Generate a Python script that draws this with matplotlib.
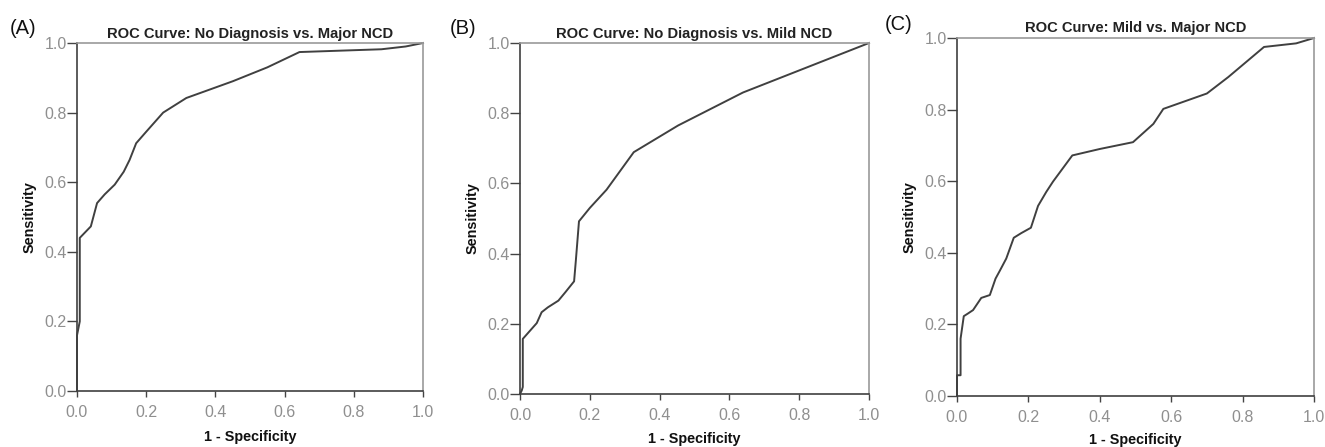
import matplotlib
matplotlib.use("Agg")
import matplotlib.pyplot as plt

plt.rcParams['font.family'] = ['Liberation Sans', 'DejaVu Sans']

# ROC curves: (1 - specificity, sensitivity)
fpr_a = [0, 0, 0.008, 0.008, 0.04, 0.058, 0.08, 0.109, 0.135, 0.152, 0.171, 0.2,
         0.249, 0.316, 0.45, 0.55, 0.643, 0.88, 0.95, 1.0]
tpr_a = [0, 0.16, 0.2, 0.44, 0.473, 0.54, 0.565, 0.593, 0.63, 0.664, 0.712, 0.745,
         0.80, 0.842, 0.89, 0.93, 0.974, 0.982, 0.99, 1.0]

fpr_b = [0, 0.005, 0.008, 0.008, 0.048, 0.062, 0.08, 0.11, 0.13, 0.155, 0.16, 0.169,
         0.2, 0.248, 0.326, 0.453, 0.639, 1.0]
tpr_b = [0, 0.01, 0.02, 0.157, 0.202, 0.233, 0.247, 0.266, 0.29, 0.321, 0.38, 0.492,
         0.53, 0.582, 0.689, 0.765, 0.859, 1.0]

fpr_c = [0, 0, 0.01, 0.01, 0.019, 0.03, 0.045, 0.068, 0.092, 0.108, 0.12, 0.138,
         0.159, 0.18, 0.207, 0.227, 0.25, 0.269, 0.323, 0.4, 0.493, 0.55, 0.578,
         0.7, 0.76, 0.86, 0.95, 1.0]
tpr_c = [0, 0.058, 0.058, 0.16, 0.223, 0.23, 0.24, 0.274, 0.282, 0.328, 0.35, 0.384,
         0.442, 0.455, 0.47, 0.531, 0.57, 0.599, 0.672, 0.69, 0.709, 0.76, 0.802,
         0.845, 0.891, 0.975, 0.985, 1.0]

titles = ['ROC Curve: No Diagnosis vs. Major NCD',
          'ROC Curve: No Diagnosis vs. Mild NCD',
          'ROC Curve: Mild vs. Major NCD']
panels = ['(A)', '(B)', '(C)']
ticks = [0.0, 0.2, 0.4, 0.6, 0.8, 1.0]

W, H = 1325, 447
fig = plt.figure(figsize=(W / 100, H / 100), dpi=100)

# axes boxes in pixels: left, right, top, bottom
boxes = [(77, 423, 43, 391), (520, 869, 43, 394), (957, 1314, 38, 396)]
panel_pos = [(10, 28), (450, 28), (885, 25)]
title_y = [34, 34, 28]
ylabel_x = [30, 473, 910]
xlabel_y = [437, 439, 440]

curves = [(fpr_a, tpr_a), (fpr_b, tpr_b), (fpr_c, tpr_c)]

for i, (x, y) in enumerate(curves):
    l, r, t, b = boxes[i]
    ax = fig.add_axes([l / W, (H - b) / H, (r - l) / W, (b - t) / H])
    ax.plot(x, y, color='#404040', lw=1.4, clip_on=False)
    ax.set_xlim(0, 1)
    ax.set_ylim(0, 1)
    ax.set_xticks(ticks)
    ax.set_yticks(ticks)
    ax.set_xticklabels([f'{v:.1f}' for v in ticks])
    ax.set_yticklabels([f'{v:.1f}' for v in ticks])
    ax.tick_params(axis='y', direction='out', length=7, width=1, color='#444444',
                   labelcolor='#8f8f8f', labelsize=11.5, pad=0.5)
    ax.tick_params(axis='x', direction='out', length=4, width=1, color='#444444',
                   labelcolor='#8f8f8f', labelsize=11.5, pad=6)
    for s in ['left', 'bottom']:
        ax.spines[s].set_color('#404040')
        ax.spines[s].set_linewidth(1.2)
    for s in ['top', 'right']:
        ax.spines[s].set_color('#9a9a9a')
        ax.spines[s].set_linewidth(1.2)

    cx = (l + r) / 2 / W
    fig.text(cx, 1 - title_y[i] / H, titles[i], ha='center', va='center',
             fontsize=10.6, fontweight='bold', color='#222222')
    fig.text(cx, 1 - xlabel_y[i] / H, '1 - Specificity', ha='center', va='center',
             fontsize=10.4, fontweight='bold', color='#111111')
    fig.text(ylabel_x[i] / W, 1 - (t + b) / 2 / H, 'Sensitivity', ha='center',
             va='center', rotation=90, fontsize=10.4, fontweight='bold', color='#111111')
    px, py = panel_pos[i]
    fig.text(px / W, 1 - py / H, panels[i], ha='left', va='center', fontsize=14.5,
             color='#111111')

fig.savefig('out.png', dpi=100)
